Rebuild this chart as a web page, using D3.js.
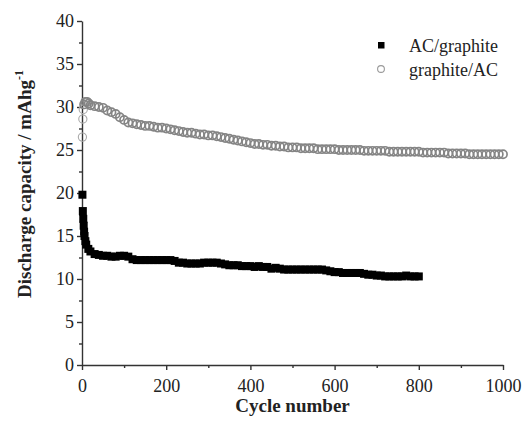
<!DOCTYPE html>
<html>
<head>
<meta charset="utf-8">
<script src="https://cdn.jsdelivr.net/npm/d3@7"></script>
<style>
  body { margin: 0; background: #fff; }
  svg text { font-family: "Liberation Serif", "Times New Roman", Times, serif !important; }
</style>
</head>
<body>
<div id="chart"></div>
<script>
// AC/graphite (black squares)
var acCycles = [1, 2, 3, 4, 5, 6, 8, 10, 15, 20, 30, 40,
  50, 60, 70, 80, 90, 100, 110, 120, 130, 140, 150, 160, 170, 180, 190, 200,
  210, 220, 230, 240, 250, 260, 270, 280, 290, 300, 310, 320, 330, 340, 350,
  360, 370, 380, 390, 400, 410, 420, 430, 440, 450, 460, 470, 480, 490, 500,
  510, 520, 530, 540, 550, 560, 570, 580, 590, 600, 610, 620, 630, 640, 650,
  660, 670, 680, 690, 700, 710, 720, 730, 740, 750, 760, 770, 780, 790, 800];
var acValues = [19.8, 17.9, 17.0, 16.2, 15.5, 15.0, 14.4, 14.0, 13.5, 13.2, 12.9, 12.8,
  12.7, 12.7, 12.6, 12.6, 12.7, 12.7, 12.6, 12.3, 12.2, 12.2, 12.2, 12.2, 12.2, 12.2, 12.2, 12.2,
  12.2, 12.1, 11.9, 11.9, 11.8, 11.8, 11.8, 11.8, 11.9, 11.9, 11.9, 11.9, 11.8, 11.7, 11.6,
  11.6, 11.6, 11.5, 11.5, 11.5, 11.4, 11.5, 11.4, 11.4, 11.2, 11.3, 11.2, 11.1, 11.1, 11.1,
  11.1, 11.1, 11.1, 11.1, 11.1, 11.1, 11.1, 11.0, 10.9, 10.8, 10.8, 10.7, 10.7, 10.7, 10.7,
  10.7, 10.6, 10.5, 10.5, 10.4, 10.4, 10.3, 10.3, 10.3, 10.3, 10.3, 10.4, 10.3, 10.3, 10.3];

// graphite/AC (grey open circles)
var gaCycles = [1, 2, 3, 5, 8, 12, 16, 20, 30, 40,
  50, 60, 70, 80, 90, 100, 110, 120, 130, 140, 150, 160, 170, 180, 190, 200,
  210, 220, 230, 240, 250, 260, 270, 280, 290, 300, 310, 320, 330, 340, 350,
  360, 370, 380, 390, 400, 410, 420, 430, 440, 450, 460, 470, 480, 490, 500,
  510, 520, 530, 540, 550, 560, 570, 580, 590, 600, 610, 620, 630, 640, 650,
  660, 670, 680, 690, 700, 710, 720, 730, 740, 750, 760, 770, 780, 790, 800,
  810, 820, 830, 840, 850, 860, 870, 880, 890, 900, 910, 920, 930, 940, 950,
  960, 970, 980, 990, 1000];
var gaValues = [26.5, 28.6, 29.7, 30.3, 30.6, 30.6, 30.4, 30.2, 30.1, 30.0,
  29.9, 29.6, 29.4, 29.2, 28.8, 28.5, 28.2, 28.1, 28.0, 27.9, 27.8, 27.8, 27.7, 27.6, 27.6, 27.5,
  27.4, 27.3, 27.2, 27.1, 27.0, 27.0, 26.9, 26.8, 26.8, 26.7, 26.7, 26.6, 26.5, 26.4, 26.3,
  26.2, 26.1, 26.0, 25.9, 25.8, 25.7, 25.7, 25.6, 25.6, 25.5, 25.5, 25.4, 25.4, 25.3, 25.3,
  25.3, 25.2, 25.2, 25.2, 25.2, 25.1, 25.1, 25.1, 25.1, 25.1, 25.0, 25.0, 25.0, 25.0, 25.0,
  25.0, 24.9, 24.9, 24.9, 24.9, 24.9, 24.9, 24.8, 24.8, 24.8, 24.8, 24.8, 24.8, 24.8, 24.8,
  24.7, 24.7, 24.7, 24.7, 24.7, 24.7, 24.6, 24.6, 24.6, 24.6, 24.6, 24.5, 24.5, 24.5, 24.5,
  24.5, 24.5, 24.5, 24.5, 24.5];

var xTicks = [0, 200, 400, 600, 800, 1000];
var yTicks = [0, 5, 10, 15, 20, 25, 30, 35, 40];
var seriesNames = ["AC/graphite", "graphite/AC"];

var svgWidth = 526;
var svgHeight = 426;
var margin = { top: 21, right: 23, bottom: 61, left: 82 };
var width = svgWidth - margin.left - margin.right;
var height = svgHeight - margin.top - margin.bottom;
var serif = "'Liberation Serif', 'Times New Roman', Times, serif";

var svg = d3.select("#chart")
  .append("svg")
  .attr("width", svgWidth)
  .attr("height", svgHeight);

var chartGroup = svg.append("g")
  .attr("transform", `translate(${margin.left}, ${margin.top})`);

var xScale = d3.scaleLinear().domain([0, 1000]).range([0, width]);
var yScale = d3.scaleLinear().domain([0, 40]).range([height, 0]);

// minor ticks
chartGroup.append("g")
  .attr("transform", `translate(0, ${height})`)
  .call(d3.axisBottom(xScale).tickValues(d3.range(100, 1000, 200)).tickSize(3).tickFormat(""))
  .call(g => g.select(".domain").remove());
chartGroup.append("g")
  .call(d3.axisLeft(yScale).tickValues(d3.range(2.5, 40, 5)).tickSize(3).tickFormat(""))
  .call(g => g.select(".domain").remove());

// main axes
var xAxis = chartGroup.append("g")
  .attr("transform", `translate(0, ${height})`)
  .call(d3.axisBottom(xScale).tickValues(xTicks).tickFormat(d3.format("d"))
    .tickSize(5).tickSizeOuter(0).tickPadding(9));
var yAxis = chartGroup.append("g")
  .call(d3.axisLeft(yScale).tickValues(yTicks).tickFormat(d3.format("d"))
    .tickSize(5).tickSizeOuter(0).tickPadding(3));

chartGroup.selectAll("g").attr("font-family", serif);
chartGroup.selectAll(".domain, .tick line")
  .attr("stroke", "#333")
  .attr("stroke-width", 1.4);
chartGroup.selectAll(".tick text")
  .attr("font-size", "18px")
  .attr("fill", "#222");

// graphite/AC circles
chartGroup.append("g")
  .selectAll("circle")
  .data(gaCycles.map((c, i) => [c, gaValues[i]]))
  .enter()
  .append("circle")
  .attr("cx", d => xScale(d[0]))
  .attr("cy", d => yScale(d[1]))
  .attr("r", 4.1)
  .attr("fill", "none")
  .attr("stroke", (d, i) => i < 3 ? "#aaa" : "#858585")
  .attr("stroke-width", (d, i) => i < 3 ? 1.1 : 1.7);

// AC/graphite squares
chartGroup.append("g")
  .selectAll("rect")
  .data(acCycles.map((c, i) => [c, acValues[i]]))
  .enter()
  .append("rect")
  .attr("x", d => xScale(d[0]) - 4)
  .attr("y", d => yScale(d[1]) - 4)
  .attr("width", 8)
  .attr("height", 8)
  .attr("fill", "#000");

// legend
var legend = svg.append("g").attr("font-family", serif);
legend.append("rect")
  .attr("x", 378).attr("y", 42).attr("width", 6.5).attr("height", 6.5)
  .attr("fill", "#000");
legend.append("circle")
  .attr("cx", 381).attr("cy", 69).attr("r", 3.4)
  .attr("fill", "none").attr("stroke", "#999").attr("stroke-width", 1.1);
legend.selectAll("text")
  .data(seriesNames)
  .enter()
  .append("text")
  .attr("x", 409)
  .attr("y", (d, i) => 52 + i * 23.5)
  .attr("font-size", "18px")
  .attr("fill", "#222")
  .text(d => d);

// axis titles
svg.append("text")
  .attr("x", margin.left + width / 2)
  .attr("y", 412)
  .attr("text-anchor", "middle")
  .attr("font-family", serif)
  .attr("font-size", "19px")
  .attr("font-weight", "bold")
  .attr("fill", "#222")
  .text("Cycle number");

var yTitle = svg.append("text")
  .attr("transform", "translate(31, 184) rotate(-90)")
  .attr("text-anchor", "middle")
  .attr("font-family", serif)
  .attr("font-size", "19px")
  .attr("font-weight", "bold")
  .attr("fill", "#222");
yTitle.append("tspan").text("Discharge capacity / mAhg");
yTitle.append("tspan").attr("dy", -8).attr("font-size", "12px").text("-1");
</script>
</body>
</html>
